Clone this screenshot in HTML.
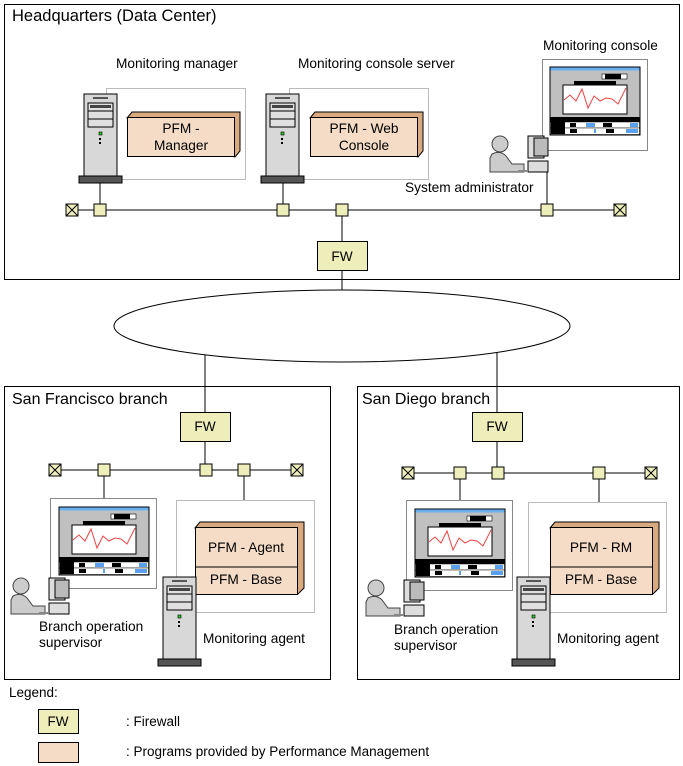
<!DOCTYPE html>
<html><head><style>
html,body{margin:0;padding:0;background:#fff;}
svg{display:block;font-family:"Liberation Sans",Arial,sans-serif;}
text{font-size:13.7px;fill:#000;}
</style></head><body>
<svg width="683" height="766" viewBox="0 0 683 766" xmlns="http://www.w3.org/2000/svg">
<defs>
<g id="srv">
  <rect x="0" y="0" width="33" height="82" fill="#d8d8d8" stroke="#000"/>
  <line x1="9" y1="4" x2="24" y2="4" stroke="#555" stroke-width="2"/>
  <rect x="4" y="9" width="25" height="8" fill="#e0e0e0" stroke="#000"/>
  <rect x="6" y="11" width="21" height="3" fill="#444"/>
  <rect x="4" y="17" width="25" height="8" fill="#e0e0e0" stroke="#000"/>
  <rect x="4" y="25" width="25" height="8" fill="#e0e0e0" stroke="#000"/>
  <rect x="15" y="38" width="3" height="3" fill="#2c2" stroke="#000" stroke-width="0.6"/>
  <rect x="15" y="44" width="2" height="2" fill="#000"/>
  <rect x="15" y="48" width="2" height="2" fill="#000"/>
  <rect x="-5" y="82" width="43" height="7" fill="#555" stroke="#000"/>
</g>
<g id="mon">
  <rect x="0" y="0" width="90" height="68" fill="#c0c0c0" stroke="#000"/>
  <rect x="0.5" y="0.5" width="89" height="3" fill="#6ab0f0"/>
  <rect x="52" y="7" width="25" height="5" fill="#fff" stroke="#000" stroke-width="0.6"/>
  <rect x="55" y="7" width="16" height="5" fill="#000"/>
  <rect x="24" y="14" width="42" height="4" fill="#000"/>
  <rect x="13" y="18" width="64" height="29" fill="#fff" stroke="#000"/>
  <polyline points="14,33 20,28 26,34 32,22 38,41 44,29 50,34 56,31 62,32 68,37 76,21" fill="none" stroke="#e44" stroke-width="1"/>
  <rect x="0.5" y="50" width="89" height="5" fill="#000"/>
  <rect x="0.5" y="55" width="89" height="6" fill="#fff" stroke="#000" stroke-width="0.5"/>
  <rect x="0.5" y="61" width="89" height="6.5" fill="#fff" stroke="#000" stroke-width="0.5"/>
  <rect x="1" y="55" width="14" height="12" fill="#000"/>
  <rect x="20" y="56" width="6" height="4" fill="#000"/><rect x="20" y="62" width="7" height="4" fill="#000"/>
  <rect x="36" y="56" width="9" height="4" fill="#5aa0f0"/><rect x="53" y="56" width="9" height="4" fill="#000"/>
  <rect x="80" y="56" width="8" height="4" fill="#5aa0f0"/><rect x="44" y="62" width="2" height="4" fill="#5aa0f0"/>
  <rect x="56" y="62" width="8" height="4" fill="#000"/><rect x="76" y="62" width="12" height="4" fill="#5aa0f0"/>
</g>
<g id="per">
  <circle cx="10" cy="8" r="8" fill="#ccc" stroke="#444"/>
  <path d="M2,18 Q10,14 16,20 L22,28 L34,28 L34,36 L0,36 L0,22 Z" fill="#ccc" stroke="#444"/>
  <rect x="38" y="0" width="16" height="22" fill="#ddd" stroke="#000"/>
  <rect x="44" y="2" width="14" height="18" fill="#bbb" stroke="#000"/>
  <rect x="38" y="25" width="20" height="11" fill="#ddd" stroke="#000"/>
  <rect x="28" y="34" width="10" height="2" fill="#888"/>
</g>
<g id="xn"><rect x="-6" y="-6" width="12" height="12" fill="#eeeebb" stroke="#000"/><path d="M-6,-6L6,6M6,-6L-6,6" stroke="#000"/></g>
<g id="sq"><rect x="-6" y="-6" width="12" height="12" fill="#eeeebb" stroke="#000"/></g>
</defs>

<!-- HQ -->
<rect x="4.5" y="4.5" width="675" height="275" fill="#fff" stroke="#000"/>
<text x="12" y="21" style="font-size:16.5px">Headquarters (Data Center)</text>
<text x="116" y="68">Monitoring manager</text>
<text x="298" y="68">Monitoring console server</text>
<text x="543" y="50">Monitoring console</text>
<text x="405" y="192">System administrator</text>

<line x1="72" y1="210" x2="620" y2="210" stroke="#000"/>
<line x1="100" y1="183" x2="100" y2="210" stroke="#000"/>
<line x1="283" y1="183" x2="283" y2="210" stroke="#000"/>
<line x1="547" y1="172" x2="547" y2="210" stroke="#000"/>
<line x1="342" y1="210" x2="342" y2="300" stroke="#000"/>

<rect x="106.5" y="88.5" width="139" height="91" fill="#fff" stroke="#bbb"/>
<path d="M127,118 L132,112 L240,112 L240,151 L235,157 Z" fill="#d9aa80" stroke="#000"/>
<rect x="127.5" y="117.5" width="107" height="39" fill="#f5dcc6" stroke="#000"/>
<text x="181" y="133" text-anchor="middle">PFM -</text>
<text x="181" y="150" text-anchor="middle">Manager</text>
<use href="#srv" x="84" y="94"/>

<rect x="289.5" y="88.5" width="139" height="91" fill="#fff" stroke="#bbb"/>
<path d="M310,118 L315,112 L423,112 L423,151 L418,157 Z" fill="#d9aa80" stroke="#000"/>
<rect x="310.5" y="117.5" width="107" height="39" fill="#f5dcc6" stroke="#000"/>
<text x="364" y="133" text-anchor="middle">PFM - Web</text>
<text x="364" y="150" text-anchor="middle">Console</text>
<use href="#srv" x="266" y="94"/>

<rect x="542.5" y="59.5" width="105" height="91" fill="#fff" stroke="#888"/>
<use href="#mon" x="550" y="67"/>
<use href="#per" x="490" y="136"/>

<use href="#xn" x="72" y="210"/><use href="#sq" x="100" y="210"/><use href="#sq" x="283" y="210"/>
<use href="#sq" x="342" y="210"/><use href="#sq" x="547" y="210"/><use href="#xn" x="620" y="210"/>
<rect x="317.5" y="241.5" width="50" height="29" fill="#eeeebb" stroke="#000"/>
<text x="342" y="261" text-anchor="middle">FW</text>

<!-- WAN -->
<line x1="205" y1="350" x2="205" y2="412" stroke="#000"/>
<line x1="497" y1="350" x2="497" y2="412" stroke="#000"/>
<ellipse cx="342" cy="326" rx="228" ry="36" fill="#fff" stroke="#000"/>
<line x1="342" y1="270" x2="342" y2="290" stroke="#000"/>

<!-- SF -->
<rect x="4.5" y="386.5" width="326" height="293" fill="#fff" stroke="#000"/>
<text x="12" y="404" style="font-size:16px">San Francisco branch</text>
<line x1="205" y1="386" x2="205" y2="470" stroke="#000"/>
<rect x="180.5" y="412.5" width="50" height="29" fill="#eeeebb" stroke="#000"/>
<text x="205" y="431" text-anchor="middle">FW</text>
<line x1="55" y1="470" x2="297" y2="470" stroke="#000"/>
<line x1="104" y1="470" x2="104" y2="498" stroke="#000"/>
<line x1="244" y1="470" x2="244" y2="500" stroke="#000"/>
<use href="#xn" x="55" y="470"/><use href="#sq" x="104" y="470"/><use href="#sq" x="206" y="470"/>
<use href="#sq" x="244" y="470"/><use href="#xn" x="297" y="470"/>
<rect x="50.5" y="498.5" width="106" height="90" fill="#fff" stroke="#888"/>
<use href="#mon" x="59" y="507"/>
<use href="#per" x="11" y="578"/>
<text x="39" y="631">Branch operation</text>
<text x="39" y="647">supervisor</text>
<rect x="176.5" y="500.5" width="138" height="112" fill="#fff" stroke="#bbb"/>
<path d="M195,528 L200,522 L304,522 L304,588 L298,594 Z" fill="#d9aa80" stroke="#000"/>
<rect x="195.5" y="527.5" width="102" height="67" fill="#f5dcc6" stroke="#000"/>
<line x1="195" y1="567" x2="298" y2="567" stroke="#000"/>
<text x="246" y="552" text-anchor="middle">PFM - Agent</text>
<text x="246" y="584" text-anchor="middle">PFM - Base</text>
<use href="#srv" x="163" y="577"/>
<text x="203" y="643">Monitoring agent</text>

<!-- SD -->
<rect x="357.5" y="386.5" width="322" height="293" fill="#fff" stroke="#000"/>
<text x="362" y="404" style="font-size:16px">San Diego branch</text>
<line x1="497" y1="386" x2="497" y2="470" stroke="#000"/>
<rect x="472.5" y="412.5" width="50" height="29" fill="#eeeebb" stroke="#000"/>
<text x="497" y="431" text-anchor="middle">FW</text>
<line x1="408" y1="473" x2="651" y2="473" stroke="#000"/>
<line x1="460" y1="473" x2="460" y2="500" stroke="#000"/>
<line x1="599" y1="473" x2="599" y2="502" stroke="#000"/>
<use href="#xn" x="408" y="473"/><use href="#sq" x="460" y="473"/><use href="#sq" x="498" y="473"/>
<use href="#sq" x="599" y="473"/><use href="#xn" x="651" y="473"/>
<rect x="406.5" y="500.5" width="106" height="90" fill="#fff" stroke="#888"/>
<use href="#mon" x="415" y="509"/>
<use href="#per" x="366" y="580"/>
<text x="394" y="634">Branch operation</text>
<text x="394" y="650">supervisor</text>
<rect x="528.5" y="502.5" width="138" height="110" fill="#fff" stroke="#bbb"/>
<path d="M550,528 L555,522 L659,522 L659,588 L653,594 Z" fill="#d9aa80" stroke="#000"/>
<rect x="550.5" y="527.5" width="102" height="67" fill="#f5dcc6" stroke="#000"/>
<line x1="550" y1="567" x2="653" y2="567" stroke="#000"/>
<text x="601" y="552" text-anchor="middle">PFM - RM</text>
<text x="601" y="584" text-anchor="middle">PFM - Base</text>
<use href="#srv" x="517" y="577"/>
<text x="557" y="643">Monitoring agent</text>

<!-- Legend -->
<text x="9" y="697" style="font-size:13.5px">Legend:</text>
<rect x="38.5" y="709.5" width="40" height="24" fill="#eeeebb" stroke="#000"/>
<text x="58" y="726" text-anchor="middle" style="font-size:13.5px">FW</text>
<text x="126" y="726" style="font-size:13.5px">: Firewall</text>
<rect x="38.5" y="742.5" width="40" height="20" fill="#f5dcc6" stroke="#000"/>
<text x="126" y="756" style="font-size:13.5px">: Programs provided by Performance Management</text>
</svg>
</body></html>
